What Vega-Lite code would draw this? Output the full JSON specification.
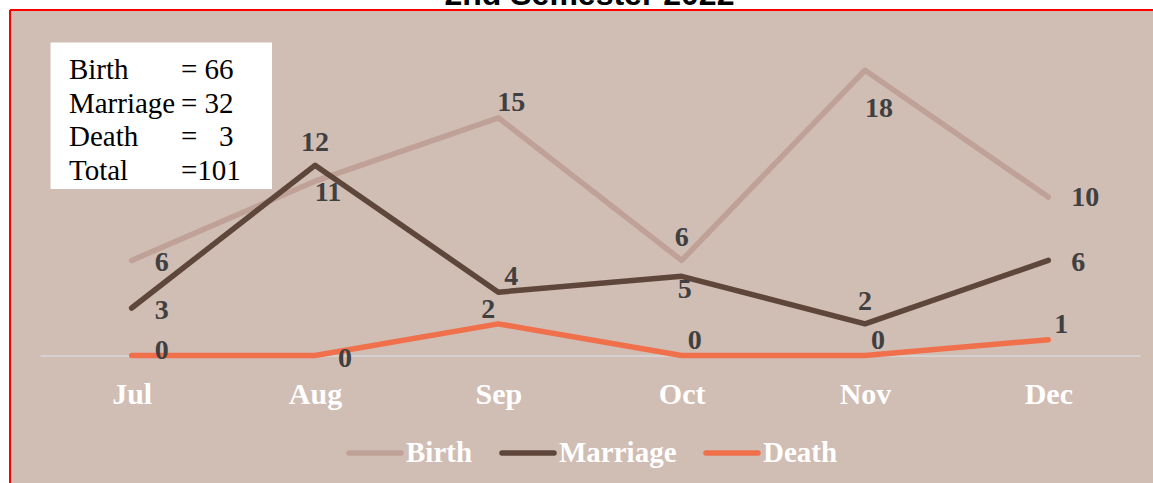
{
  "$schema": "https://vega.github.io/schema/vega-lite/v6.json",
  "width": 1143,
  "height": 473,
  "autosize": {"type": "none"},
  "padding": {"left": 10, "top": 10, "right": 0, "bottom": 0},
  "background": "white",
  "config": {
    "view": {"fill": "#D0BDB4", "stroke": "#FF0000", "strokeWidth": 2, "strokeDash": [1143, 1616, 473, 0]},
    "font": "Liberation Serif"
  },
  "datasets": {
    "counts": [
      {"month": "Jul", "series": "Birth", "value": 6},
      {"month": "Aug", "series": "Birth", "value": 11},
      {"month": "Sep", "series": "Birth", "value": 15},
      {"month": "Oct", "series": "Birth", "value": 6},
      {"month": "Nov", "series": "Birth", "value": 18},
      {"month": "Dec", "series": "Birth", "value": 10},
      {"month": "Jul", "series": "Marriage", "value": 3},
      {"month": "Aug", "series": "Marriage", "value": 12},
      {"month": "Sep", "series": "Marriage", "value": 4},
      {"month": "Oct", "series": "Marriage", "value": 5},
      {"month": "Nov", "series": "Marriage", "value": 2},
      {"month": "Dec", "series": "Marriage", "value": 6},
      {"month": "Jul", "series": "Death", "value": 0},
      {"month": "Aug", "series": "Death", "value": 0},
      {"month": "Sep", "series": "Death", "value": 2},
      {"month": "Oct", "series": "Death", "value": 0},
      {"month": "Nov", "series": "Death", "value": 0},
      {"month": "Dec", "series": "Death", "value": 1}
    ],
    "summary": [
      {"month": "Jul", "title": "2nd Semester 2022", "labels": "Birth\nMarriage\nDeath\nTotal", "eqs": "= 66\n= 32\n=\u00a0\u00a0\u00a03\n=101"}
    ]
  },
  "data": {"name": "counts"},
  "encoding": {
    "x": {"field": "month", "type": "ordinal",
      "scale": {"type": "point", "domain": ["Jul", "Aug", "Sep", "Oct", "Nov", "Dec"], "range": [30, 1130], "padding": 0.5},
      "axis": {"orient": "bottom", "offset": -127.5, "title": null, "grid": false, "domainColor": "#D9D9D9", "domainWidth": 1.5, "ticks": false, "tickSize": 0, "labelColor": "#FFFFFF", "labelFont": "Liberation Serif", "labelFontWeight": "bold", "labelFontSize": 30, "labelBaseline": "alphabetic", "labelPadding": 48, "labelAngle": 0}},
    "y": {"field": "value", "type": "quantitative", "scale": {"domain": [-8.04, 21.8], "nice": false, "zero": false}, "axis": null}
  },
  "layer": [
    {
      "transform": [
        {"filter": "datum.series == 'Birth' && datum.month == 'Jul'"},
        {"lookup": "month", "from": {"data": {"name": "summary"}, "key": "month", "fields": ["title", "labels", "eqs"]}}
      ],
      "mark": {"type": "text", "font": "Liberation Sans", "fontSize": 32, "fontWeight": "bold", "color": "#000000", "align": "center", "baseline": "alphabetic", "dx": 457.8, "dy": -255.9},
      "encoding": {"text": {"field": "title", "type": "nominal"}}
    },
    {
      "transform": [
        {"filter": "datum.series == 'Birth' && datum.month == 'Jul'"},
        {"lookup": "month", "from": {"data": {"name": "summary"}, "key": "month", "fields": ["labels", "eqs"]}}
      ],
      "mark": {"type": "point", "shape": "M-1,-0.6614H1V0.6614H-1Z", "size": 49062, "filled": true, "fill": "#FFFFFF", "opacity": 1, "strokeWidth": 0, "xOffset": 29.6, "yOffset": -144.7}
    },
    {
      "transform": [
        {"filter": "datum.series == 'Birth' && datum.month == 'Jul'"},
        {"lookup": "month", "from": {"data": {"name": "summary"}, "key": "month", "fields": ["labels", "eqs"]}}
      ],
      "mark": {"type": "text", "lineBreak": "\n", "font": "Liberation Serif", "fontSize": 29, "color": "#000000", "align": "left", "baseline": "alphabetic", "lineHeight": 33.7, "dx": -62.7, "dy": -181.4},
      "encoding": {"text": {"field": "labels", "type": "nominal"}}
    },
    {
      "transform": [
        {"filter": "datum.series == 'Birth' && datum.month == 'Jul'"},
        {"lookup": "month", "from": {"data": {"name": "summary"}, "key": "month", "fields": ["labels", "eqs"]}}
      ],
      "mark": {"type": "text", "lineBreak": "\n", "font": "Liberation Serif", "fontSize": 29, "color": "#000000", "align": "left", "baseline": "alphabetic", "lineHeight": 33.7, "dx": 49.3, "dy": -181.4},
      "encoding": {"text": {"field": "eqs", "type": "nominal"}}
    },
    {
      "mark": {"type": "line", "strokeWidth": 5.5, "strokeCap": "round", "strokeJoin": "round"},
      "encoding": {
        "color": {"field": "series", "type": "nominal",
          "scale": {"domain": ["Birth", "Marriage", "Death"], "range": ["#BFA197", "#5E463A", "#F0704C"]},
          "legend": {"orient": "none", "legendX": 336, "legendY": 414, "direction": "horizontal", "title": null, "symbolType": "stroke", "symbolStrokeWidth": 5.5, "symbolSize": 2704, "labelFont": "Liberation Serif", "labelFontWeight": "bold", "labelFontSize": 29, "labelColor": "#FFFFFF", "labelOffset": 2, "columnPadding": 18,
            "encode": {"symbols": {"update": {"strokeCap": {"value": "round"}}}}}
        }
      }
    },
    {
      "transform": [{"filter": "indexof(['Birth|Jul','Marriage|Jul','Marriage|Dec','Death|Aug'], datum.series + '|' + datum.month) >= 0"}],
      "mark": {"type": "text", "font": "Liberation Serif", "fontWeight": "bold", "fontSize": 28, "color": "#404040", "align": "center", "baseline": "middle", "dx": 30, "dy": 3},
      "encoding": {"text": {"field": "value", "type": "quantitative"}}
    },
    {
      "transform": [{"filter": "datum.series == 'Death' && datum.month == 'Jul'"}],
      "mark": {"type": "text", "font": "Liberation Serif", "fontWeight": "bold", "fontSize": 28, "color": "#404040", "align": "center", "baseline": "middle", "dx": 30, "dy": -5},
      "encoding": {"text": {"field": "value", "type": "quantitative"}}
    },
    {
      "transform": [{"filter": "datum.series == 'Birth' && datum.month == 'Dec'"}],
      "mark": {"type": "text", "font": "Liberation Serif", "fontWeight": "bold", "fontSize": 28, "color": "#404040", "align": "center", "baseline": "middle", "dx": 37, "dy": 1},
      "encoding": {"text": {"field": "value", "type": "quantitative"}}
    },
    {
      "transform": [{"filter": "indexof(['Marriage|Aug','Marriage|Nov','Birth|Oct'], datum.series + '|' + datum.month) >= 0"}],
      "mark": {"type": "text", "font": "Liberation Serif", "fontWeight": "bold", "fontSize": 28, "color": "#404040", "align": "center", "baseline": "middle", "dx": 0, "dy": -22},
      "encoding": {"text": {"field": "value", "type": "quantitative"}}
    },
    {
      "transform": [{"filter": "indexof(['Birth|Sep','Marriage|Sep','Death|Oct','Death|Nov','Death|Dec'], datum.series + '|' + datum.month) >= 0"}],
      "mark": {"type": "text", "font": "Liberation Serif", "fontWeight": "bold", "fontSize": 28, "color": "#404040", "align": "center", "baseline": "middle", "dx": 13, "dy": -15},
      "encoding": {"text": {"field": "value", "type": "quantitative"}}
    },
    {
      "transform": [{"filter": "datum.series == 'Death' && datum.month == 'Sep'"}],
      "mark": {"type": "text", "font": "Liberation Serif", "fontWeight": "bold", "fontSize": 28, "color": "#404040", "align": "center", "baseline": "middle", "dx": -10, "dy": -14},
      "encoding": {"text": {"field": "value", "type": "quantitative"}}
    },
    {
      "transform": [{"filter": "datum.series == 'Birth' && datum.month == 'Aug'"}],
      "mark": {"type": "text", "font": "Liberation Serif", "fontWeight": "bold", "fontSize": 28, "color": "#404040", "align": "center", "baseline": "middle", "dx": 13, "dy": 12},
      "encoding": {"text": {"field": "value", "type": "quantitative"}}
    },
    {
      "transform": [{"filter": "datum.series == 'Marriage' && datum.month == 'Oct'"}],
      "mark": {"type": "text", "font": "Liberation Serif", "fontWeight": "bold", "fontSize": 28, "color": "#404040", "align": "center", "baseline": "middle", "dx": 3, "dy": 14},
      "encoding": {"text": {"field": "value", "type": "quantitative"}}
    },
    {
      "transform": [{"filter": "datum.series == 'Birth' && datum.month == 'Nov'"}],
      "mark": {"type": "text", "font": "Liberation Serif", "fontWeight": "bold", "fontSize": 28, "color": "#404040", "align": "center", "baseline": "middle", "dx": 14, "dy": 39},
      "encoding": {"text": {"field": "value", "type": "quantitative"}}
    }
  ]
}
